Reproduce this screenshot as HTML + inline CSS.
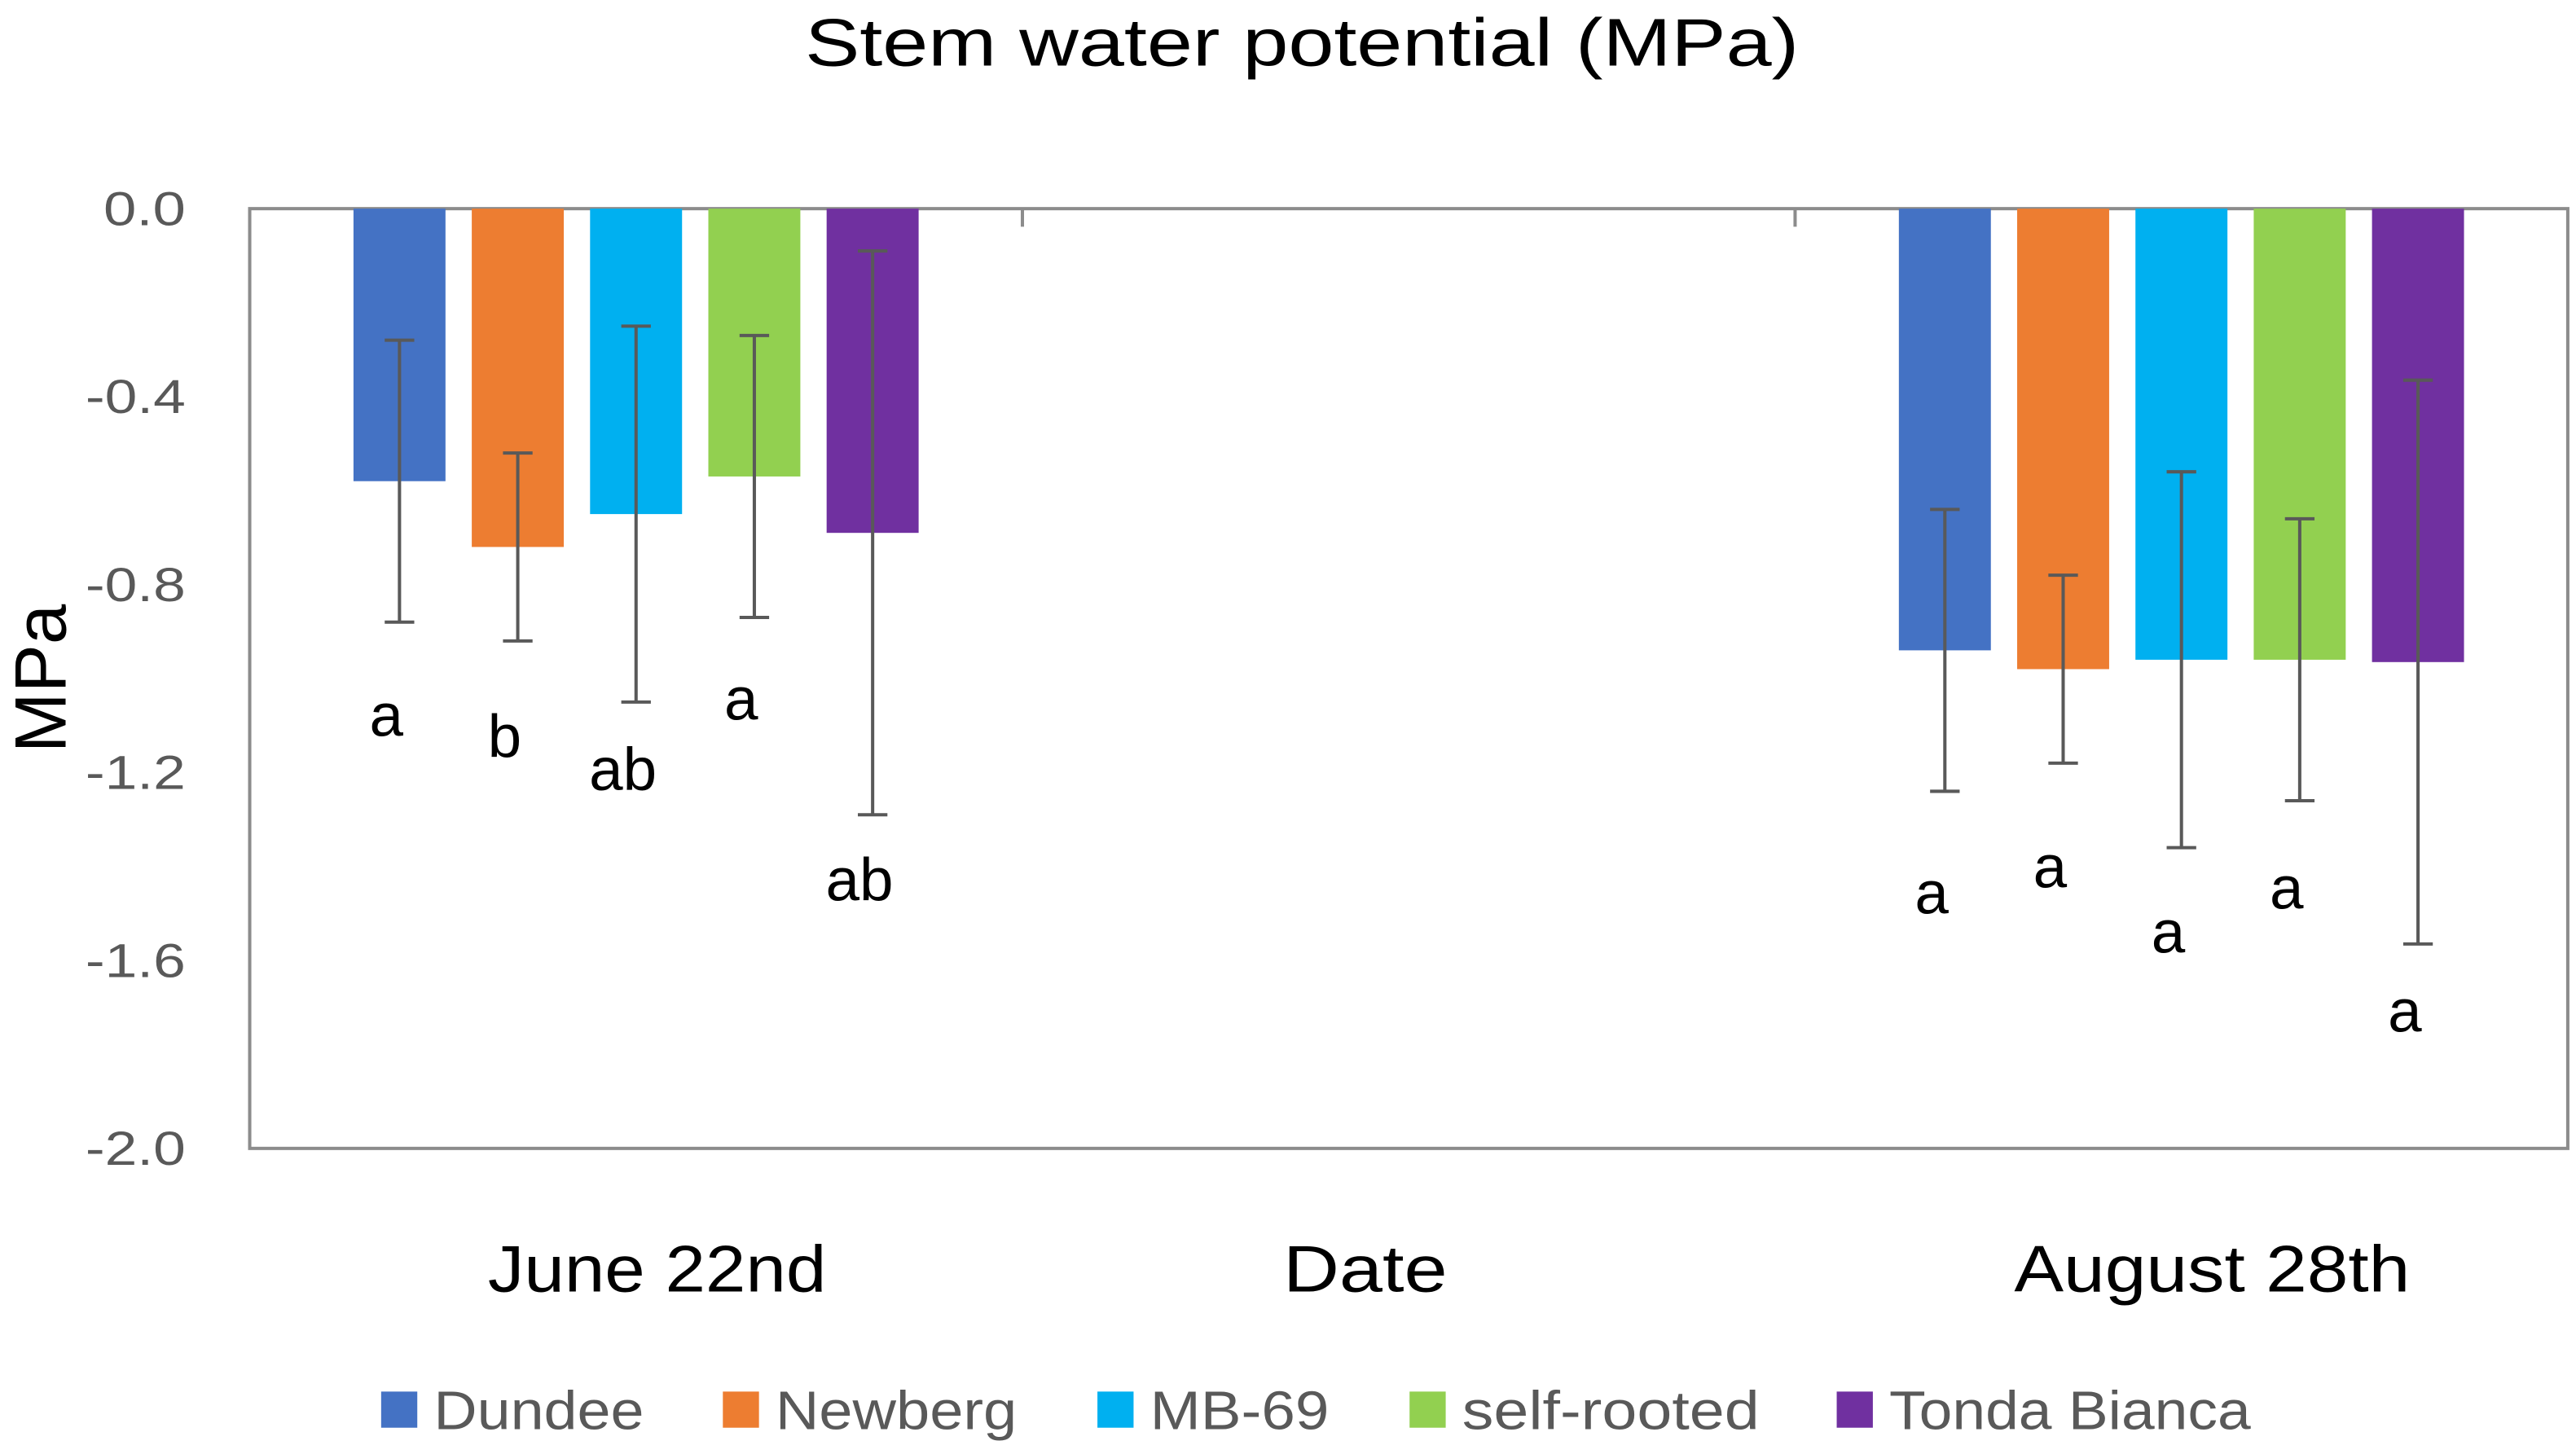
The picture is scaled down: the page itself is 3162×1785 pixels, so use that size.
<!DOCTYPE html>
<html><head><meta charset="utf-8"><style>
html,body{margin:0;padding:0;background:#fff;}
svg{display:block;}
text{font-family:"Liberation Sans",sans-serif;}
</style></head><body>
<svg id="chart" width="3162" height="1785" viewBox="0 0 1568 885" preserveAspectRatio="none" xmlns="http://www.w3.org/2000/svg">
<text x="490" y="40" textLength="605" lengthAdjust="spacingAndGlyphs" font-size="41" fill="#000">Stem water potential (MPa)</text>
<text transform="translate(40,413) rotate(-90)" text-anchor="middle" font-size="44" fill="#000">MPa</text>
<text x="781" y="786" textLength="100" lengthAdjust="spacingAndGlyphs" font-size="40" fill="#000">Date</text>
<g id="plot"></g>
<g id="legend"></g>
</svg>
<script>
const categories = ["June 22nd", "", "August 28th"];
const series = ["Dundee", "Newberg", "MB-69", "self-rooted", "Tonda Bianca"];
const colors = ["#4472C4", "#ED7D31", "#00B0F0", "#92D050", "#7030A0"];
const juneValues = [-0.58, -0.72, -0.65, -0.57, -0.69];
const augustValues = [-0.94, -0.98, -0.96, -0.96, -0.965];
const juneErrors = [0.30, 0.20, 0.40, 0.30, 0.60];
const augustErrors = [0.30, 0.20, 0.40, 0.30, 0.60];
const juneLetters = ["a", "b", "ab", "a", "ab"];
const augustLetters = ["a", "a", "a", "a", "a"];
const juneLetterPos = [-1.077, -1.122, -1.192, -1.042, -1.427];
const augustLetterPos = [-1.455, -1.399, -1.538, -1.444, -1.706];
const yTicks = [0, -0.4, -0.8, -1.2, -1.6, -2.0];
const yTickLabels = ["0.0", "-0.4", "-0.8", "-1.2", "-1.6", "-2.0"];

const NS = "http://www.w3.org/2000/svg";
const L = 152, R = 1563, T = 127, B = 699;
const yMin = -2, yMax = 0;
const y = v => T + (yMax - v) / (yMax - yMin) * (B - T);
const catW = (R - L) / categories.length;
const catX = i => L + catW * i;
const barW = 56, step = 72;
const barX = (c, s) => catX(c) + catW / 2 - (series.length * step - (step - barW)) / 2 + s * step;

const plot = document.getElementById('plot');
function mk(tag, attrs, parent) {
  const e = document.createElementNS(NS, tag);
  for (const k in attrs) e.setAttribute(k, attrs[k]);
  (parent || plot).appendChild(e);
  return e;
}

yTicks.forEach((t, i) => {
  const lab = yTickLabels[i];
  const w = lab.startsWith('-') ? 61 : 50;
  const tx = mk('text', {x: 113 - w, y: y(t) + 10, textLength: w, lengthAdjust: 'spacingAndGlyphs', 'font-size': 29, fill: '#595959'});
  
  
  tx.textContent = lab;
});

const frame = mk('rect', {x: L, y: T, width: R - L, height: B - T, fill: 'none', stroke: '#8c8c8c', 'stroke-width': 2});


for (let i = 1; i < categories.length; i++) {
  const tk = mk('line', {x1: catX(i), x2: catX(i), y1: T, y2: T + 11, stroke: '#8c8c8c', 'stroke-width': 2});
  
  
}

const groups = [[0, juneValues, juneErrors, juneLetters, juneLetterPos], [2, augustValues, augustErrors, augustLetters, augustLetterPos]];
groups.forEach(([c, vals, errs, lets, lpos]) => {
  vals.forEach((v, s) => {
    const x = barX(c, s);
    const b = mk('rect', {x: x, y: y(0), width: barW, height: y(v) - y(0), fill: colors[s]});
    
    
    const cx = x + barW / 2, y1 = y(v + errs[s]), y2 = y(v - errs[s]);
    const eg = mk('g', {stroke: '#595959', 'stroke-width': 2});
    
    
    mk('line', {x1: cx, x2: cx, y1: y1, y2: y2}, eg);
    mk('line', {x1: cx - 9, x2: cx + 9, y1: y1, y2: y1}, eg);
    mk('line', {x1: cx - 9, x2: cx + 9, y1: y2, y2: y2}, eg);
    const lt = mk('text', {x: cx - 8, y: y(lpos[s]) + 13, 'text-anchor': 'middle', 'font-size': 37, fill: '#000'});
    
    
    lt.textContent = lets[s];
  });
});

const catLabelX = [297, 0, 1226];
const catLabelW = [206, 0, 241];
categories.forEach((cn, i) => {
  if (!cn) return;
  const t = mk('text', {x: catLabelX[i], y: 786, textLength: catLabelW[i], lengthAdjust: 'spacingAndGlyphs', 'font-size': 40, fill: '#000'});
  
  
  t.textContent = cn;
});

const legend = document.getElementById('legend');
const legX = [232, 440, 668, 858, 1118];
const legW = [128, 147, 109, 181, 220];
series.forEach((sn, s) => {
  const g = mk('g', {}, legend);
  
  
  mk('rect', {x: legX[s], y: 847, width: 22, height: 22, fill: colors[s]}, g);
  const t = mk('text', {x: legX[s] + 32, y: 870, textLength: legW[s], lengthAdjust: 'spacingAndGlyphs', 'font-size': 33, fill: '#595959'}, g);
  t.textContent = sn;
});
</script>
</body></html>
